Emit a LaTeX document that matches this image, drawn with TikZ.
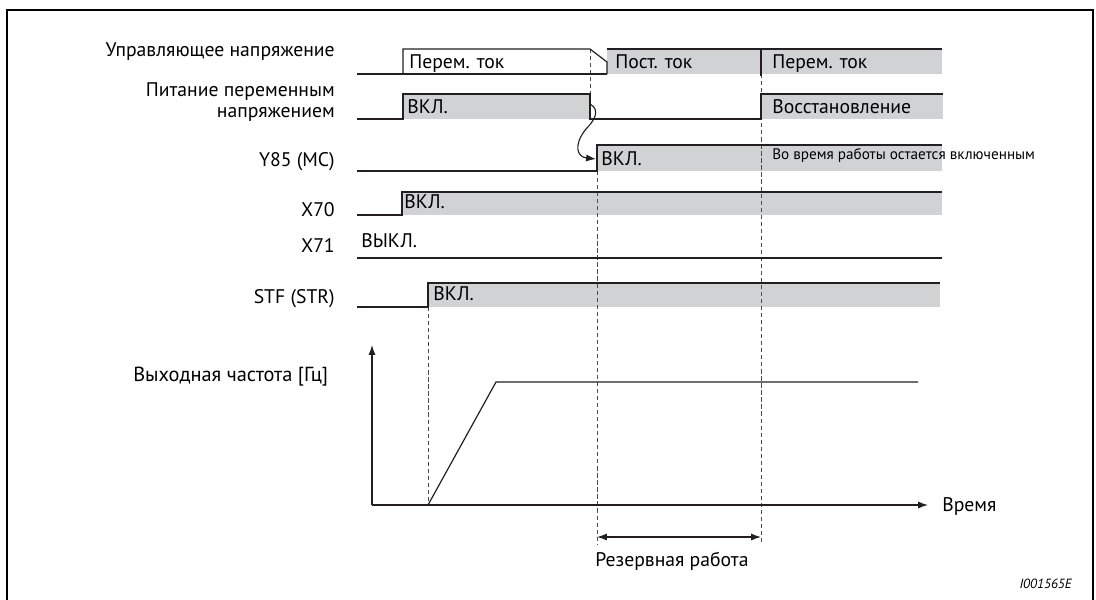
\documentclass[tikz,border=0pt]{standalone}
\usepackage{fontspec}
\setmainfont{PT Sans}
\usetikzlibrary{arrows, arrows.meta, positioning, calc}
\definecolor{sigfill}{RGB}{209, 210, 212}
\definecolor{sigline}{RGB}{35, 31, 32}

\begin{document}
\begin{tikzpicture}[x=0.025cm, y=-0.025cm]
            \tikzstyle{lbl} = [anchor=base east, inner sep=0pt, font=\fontsize{14}{16}\selectfont]
            \tikzstyle{txt} = [anchor=base west, inner sep=0pt, font=\fontsize{14}{16}\selectfont]
            \tikzstyle{note} = [anchor=base west, inner sep=0pt, font=\fontsize{10.8}{12}\selectfont]
            \tikzstyle{sig} = [line width=0.85pt, sigline]
            \tikzstyle{on} = [fill=sigfill]
            \tikzstyle{guide} = [dash pattern=on 3pt off 2pt, line width=0.6pt, sigline!80]
            \tikzstyle{arrow} = [line width=0.8pt, sigline, -{Latex[length=7pt, width=5pt]}]

            \useasboundingbox (0,0) rectangle (1096,599);
            \draw[line width=1.4pt] (7,605) |- (1093,10) -- (1093,605);

            % labels
            \node[lbl] (ctrl) at (335,56) {Управляющее напряжение};
            \node[lbl] (acpw) at (335,96) {Питание переменным};
            \node[lbl] (acpw2) at (335,117) {напряжением};
            \node[lbl] (y85) at (335,166) {Y85 (MC)};
            \node[lbl] (x70) at (335,216) {X70};
            \node[lbl] (x71) at (335,252) {X71};
            \node[lbl] (stf) at (335,303) {STF (STR)};
            \node[anchor=base west, inner sep=0pt, font=\fontsize{14.5}{16}\selectfont] (fout) at (133,381) {Выходная частота [Гц]};

            % gray "on" areas
            \fill[on] (607,49) rectangle (942,74);
            \fill[on] (403,94) rectangle (590,119);
            \fill[on] (761,94) rectangle (943,119);
            \fill[on] (597,145) rectangle (942,171);
            \fill[on] (402,192) rectangle (942,215);
            \fill[on] (428,283) rectangle (940,307);

            % dashed guides
            \draw[guide] (590,49) -- (590,94);
            \draw[guide] (597,171) -- (597,545);
            \draw[guide] (761,74) -- (761,545);
            \draw[guide] (428,307) -- (428,505);

            % signals
            \draw[sig] (357,74) -- (607,74);
            \draw[sig] (403,74) |- (590,49) -- (607,62) -- (607,74);
            \draw[sig] (607,49) -- (942,49);
            \draw[sig] (761,49) -- (761,76);
            \draw[sig] (357,119) -| (403,94) -- (590,94) -- (590,119) -- (761,119) -- (761,94) -- (943,94);
            \draw[sig] (357,171) -| (597,145) -- (942,145);
            \draw[sig] (357,215) -| (402,192) -- (942,192);
            \draw[sig] (357,258) -- (942,258);
            \draw[sig] (357,307) -| (428,283) -- (940,283);

            % texts in the rows
            \node[txt] (ac1) at (409,68) {Перем. ток};
            \node[txt] (dc) at (615,68) {Пост. ток};
            \node[txt] (ac2) at (772,68) {Перем. ток};
            \node[txt] (acon) at (407,113) {ВКЛ.};
            \node[txt] (rest) at (772,113) {Восстановление};
            \node[txt] (y85on) at (601,165) {ВКЛ.};
            \node[note] (keep) at (772,159) {Во время работы остается включенным};
            \node[txt] (x70on) at (404,208) {ВКЛ.};
            \node[txt] (x71off) at (361,247) {ВЫКЛ.};
            \node[txt] (stfon) at (433,300) {ВКЛ.};

            % curved arrow from power loss to Y85
            \coordinate (drop) at (590,104);
            \coordinate (rise) at (596,159);
            \draw[arrow] (drop) .. controls (601,110) and (594,121) .. (586,129) .. controls (573,145) and (577,157) .. (rise);

            % frequency graph
            \coordinate (orig) at (372,505);
            \coordinate (ytop) at (372,345);
            \coordinate (tend) at (928,505);
            \draw[arrow] (orig) -- (ytop);
            \draw[arrow] (orig) -- (tend);
            \node[txt, anchor=west] (time) at (942,506) {Время};
            \draw[sig] (428,505) -- (496,382) -- (918,382);

            % backup operation span
            \coordinate (bl) at (597,537);
            \coordinate (br) at (761,537);
            \draw[arrow, {Latex[length=7pt, width=5pt]}-{Latex[length=7pt, width=5pt]}] (bl) -- (br);
            \node[txt] (backup) at (595,566) {Резервная работа};
            \node[anchor=base east, inner sep=0pt, font=\fontsize{9.5}{10}\selectfont\itshape] (fig) at (1072,588) {I001565E};
        \end{tikzpicture}
\end{document}
